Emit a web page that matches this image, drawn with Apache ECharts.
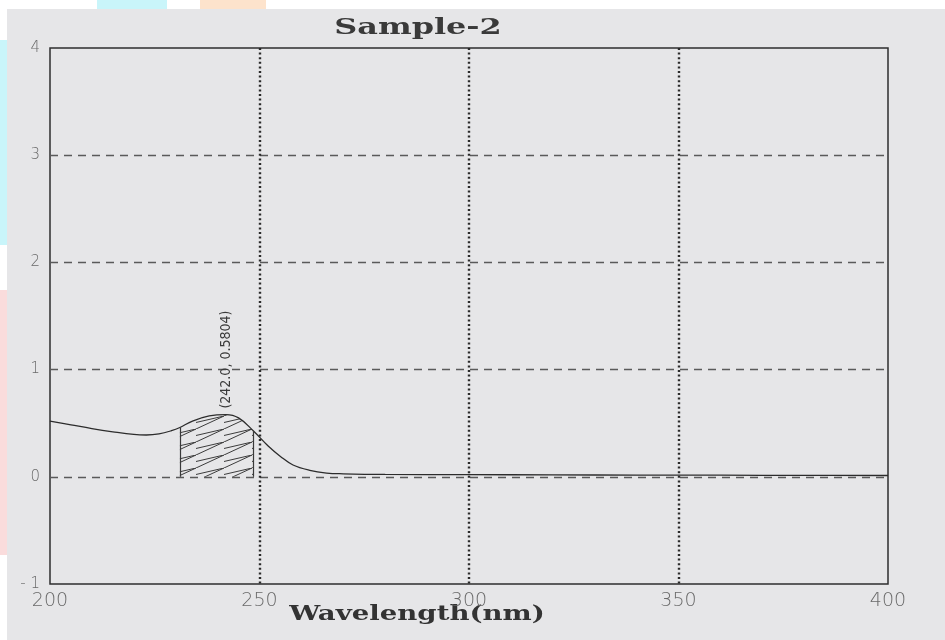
<!DOCTYPE html>
<html>
<head>
<meta charset="utf-8">
<title>Sample-2</title>
<script src="https://cdn.jsdelivr.net/npm/echarts@6/dist/echarts.min.js"></script>
<style>
  html, body { margin: 0; padding: 0; background: #ffffff; }
  #chart { width: 945px; height: 640px; }
</style>
</head>
<body>
<div id="chart"></div>
<script>
// Absorption spectrum of Sample-2
const wavelengths = [200, 205, 210, 215, 220, 223, 226, 229, 231, 234, 238, 242, 245, 248.5, 252, 255, 258, 262, 266, 270, 280, 300, 320, 340, 360, 380, 400];
const absorbance  = [0.52, 0.485, 0.45, 0.42, 0.395, 0.39, 0.40, 0.43, 0.46, 0.52, 0.568, 0.5804, 0.55, 0.43, 0.29, 0.19, 0.11, 0.06, 0.035, 0.028, 0.022, 0.02, 0.018, 0.016, 0.015, 0.013, 0.012];

// Peak pick and integrated band
const peakWavelength = 242;
const bandStart = 231;
const bandEnd = 248.5;

// Axis ticks
const xTicks = [200, 250, 300, 350, 400];
const yTicks = [-1, 0, 1, 2, 3, 4];

const spectrum = wavelengths.map((w, i) => [w, absorbance[i]]);
const band = spectrum.filter(p => p[0] >= bandStart && p[0] <= bandEnd);
const peakIdx = wavelengths.indexOf(peakWavelength);
const peakPoint = spectrum[peakIdx];
const startPoint = spectrum[wavelengths.indexOf(bandStart)];
const endPoint = spectrum[wavelengths.indexOf(bandEnd)];

// Diagonal hatch tile for the band fill
function hatchPattern() {
  const W = 28, H = 13;
  const c = document.createElement('canvas');
  c.width = W; c.height = H;
  const g = c.getContext('2d');
  g.strokeStyle = '#3c3c3c';
  g.lineWidth = 1;
  g.beginPath();
  g.moveTo(-W, 2 * H); g.lineTo(2 * W, -H);
  g.moveTo(-W, H); g.lineTo(W, 0);
  g.moveTo(0, 2 * H); g.lineTo(2 * W, 0);
  g.stroke();
  return c;
}

const chart = echarts.init(document.getElementById('chart'), null, { renderer: 'canvas' });

const option = {
  backgroundColor: '#e6e6e8',
  animation: false,
  grid: {
    left: 50, right: 57, top: 48, bottom: 56,
    show: true, borderColor: '#2e2e2e', borderWidth: 1.5, backgroundColor: 'transparent'
  },
  xAxis: {
    type: 'value',
    min: xTicks[0], max: xTicks[xTicks.length - 1], interval: 50,
    axisLine: { show: false, onZero: false },
    axisTick: { show: false },
    axisLabel: {
      color: '#6a6a6a', fontSize: 19, fontFamily: 'DejaVu Sans', fontWeight: 'lighter',
      margin: 8,
      formatter: v => String(v)
    },
    splitLine: {
      show: true, showMinLine: false, showMaxLine: false,
      lineStyle: { color: '#2a2a2a', width: 2.4, type: [2, 2.6] }
    }
  },
  yAxis: {
    type: 'value',
    min: yTicks[0], max: yTicks[yTicks.length - 1], interval: 1,
    axisLine: { show: false, onZero: false },
    axisTick: { show: false },
    axisLabel: {
      color: '#6a6a6a', fontSize: 15, fontFamily: 'DejaVu Sans', fontWeight: 'lighter',
      margin: 10, verticalAlign: 'middle', padding: [0, 0, 10, 0],
      formatter: v => (v < 0 ? '- ' + Math.abs(v) : String(v))
    },
    splitLine: {
      show: true, showMinLine: false, showMaxLine: false,
      lineStyle: { color: '#5a5a5a', width: 1.3, type: [8, 6] }
    }
  },
  graphic: [
    // paper edge strips
    { type: 'rect', shape: { x: 0, y: 0, width: 945, height: 9 }, style: { fill: '#ffffff' }, silent: true },
    { type: 'rect', shape: { x: 0, y: 0, width: 7, height: 640 }, style: { fill: '#ffffff' }, silent: true },
    { type: 'rect', shape: { x: 97, y: 0, width: 70, height: 9 }, style: { fill: '#c9f5fa' }, silent: true },
    { type: 'rect', shape: { x: 200, y: 0, width: 66, height: 9 }, style: { fill: '#fde3cc' }, silent: true },
    { type: 'rect', shape: { x: 0, y: 40, width: 7, height: 205 }, style: { fill: '#c9f5fa' }, silent: true },
    { type: 'rect', shape: { x: 0, y: 290, width: 7, height: 265 }, style: { fill: '#fadcdc' }, silent: true },
    // title
    {
      type: 'text', x: 418, y: 28, scaleX: 1.45,
      style: {
        text: 'Sample-2', fill: '#3a3a3a',
        font: 'bold 22px "DejaVu Serif"',
        textAlign: 'center', textVerticalAlign: 'middle'
      }
    },
    // x axis title
    {
      type: 'text', x: 417, y: 615, scaleX: 1.38,
      style: {
        text: 'Wavelength(nm)', fill: '#333333',
        font: 'bold 20px "DejaVu Serif"',
        textAlign: 'center', textVerticalAlign: 'middle'
      }
    }
  ],
  series: [
    {
      name: 'band',
      type: 'line',
      data: band,
      smooth: 0.4,
      showSymbol: false,
      lineStyle: { width: 0 },
      areaStyle: { origin: 0, color: { image: hatchPattern(), repeat: 'repeat' }, opacity: 1 },
      z: 2,
      silent: true
    },
    {
      name: 'Sample-2',
      type: 'line',
      data: spectrum,
      smooth: 0.4,
      showSymbol: false,
      lineStyle: { color: '#2c2c2c', width: 1.3 },
      z: 3,
      markLine: {
        silent: true,
        symbol: 'none',
        label: { show: false },
        lineStyle: { color: '#3a3a3a', width: 1.2, type: 'solid' },
        data: [
          [{ coord: [startPoint[0], 0] }, { coord: [startPoint[0], startPoint[1]] }],
          [{ coord: [endPoint[0], 0] }, { coord: [endPoint[0], endPoint[1]] }]
        ]
      },
      markPoint: {
        silent: true,
        symbol: 'circle',
        symbolSize: 0,
        data: [{ coord: peakPoint, value: peakPoint[1] }],
        label: {
          show: true,
          position: 'top',
          distance: 6,
          rotate: 90,
          align: 'left',
          verticalAlign: 'middle',
          color: '#3a3a3a',
          fontSize: 14,
          fontFamily: '"Liberation Sans Narrow", "DejaVu Sans Condensed", sans-serif',
          formatter: () => '(' + peakPoint[0].toFixed(1) + ', ' + peakPoint[1].toFixed(4) + ')'
        }
      }
    }
  ]
};

chart.setOption(option);
</script>
</body>
</html>
